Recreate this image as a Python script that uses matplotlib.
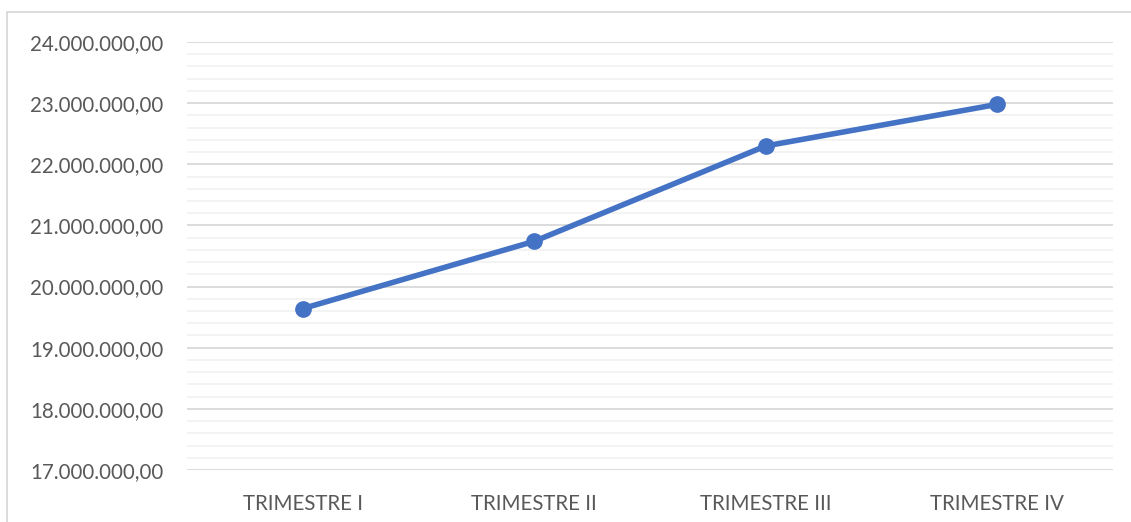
import matplotlib.pyplot as plt
from matplotlib.patches import Rectangle
from matplotlib.ticker import FuncFormatter, MultipleLocator

categories = ['TRIMESTRE I', 'TRIMESTRE II', 'TRIMESTRE III', 'TRIMESTRE IV']
values = [19640000, 20740000, 22300000, 22980000]

text_color = '#595959'
line_color = '#4472C4'
plt.rcParams['font.family'] = ['Lato', 'DejaVu Sans']

W, H = 1131, 522
fig = plt.figure(figsize=(W / 100, H / 100), dpi=100)
ax = fig.add_axes([187 / W, 1 - 470 / H, (1113 - 187) / W, (470 - 42) / H])

x = [i + 0.5 for i in range(len(categories))]
ax.plot(x, values, color=line_color, lw=4, marker='o', ms=11, zorder=3,
        solid_capstyle='round')

ax.set_xlim(0, len(categories))
ax.set_ylim(17000000, 24000000)
ax.yaxis.set_major_locator(MultipleLocator(1000000))
ax.yaxis.set_minor_locator(MultipleLocator(200000))
ax.yaxis.set_major_formatter(FuncFormatter(
    lambda v, p: f'{v:,.2f}'.replace(',', 'X').replace('.', ',').replace('X', '.')))
ax.set_xticks(x)
ax.set_xticklabels(categories)

ax.grid(axis='y', which='major', color='#d9d9d9', lw=1.3)
ax.grid(axis='y', which='minor', color='#f2f2f2', lw=1.3)
ax.set_axisbelow(True)
for s in ax.spines.values():
    s.set_visible(False)
ax.tick_params(axis='both', which='both', length=0, colors=text_color, labelsize=14.8)
ax.tick_params(axis='y', pad=17)
ax.tick_params(axis='x', pad=17)

# outer chart frame
fig.patches.append(Rectangle((7 / W, -0.05), 1.2, 1 - 12 / H + 0.05,
                             transform=fig.transFigure, fill=False,
                             ec='#d9d9d9', lw=1.3))

fig.savefig('out.png', dpi=100)
